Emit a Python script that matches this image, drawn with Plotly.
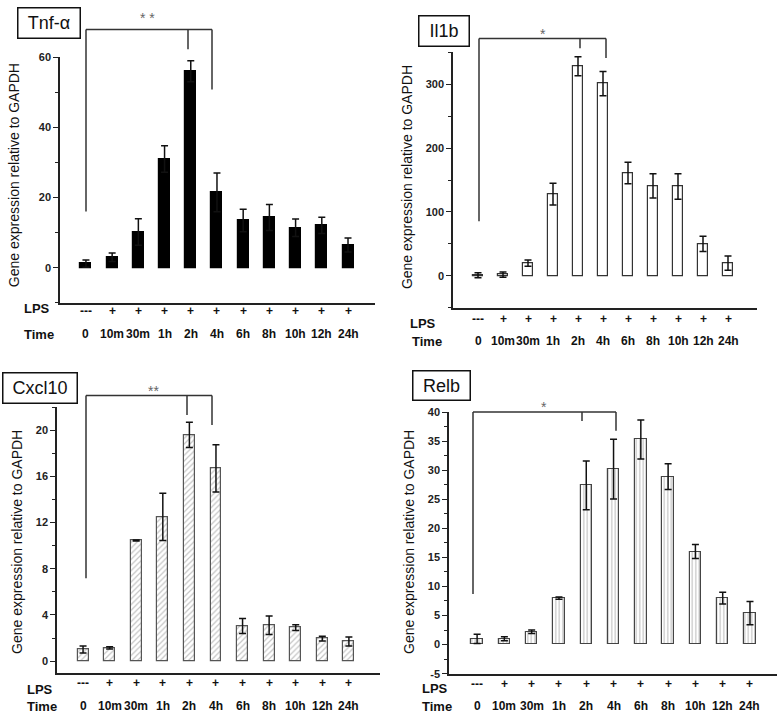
import plotly.graph_objects as go

W, H = 778, 718

# ---------------- data ----------------
times = ["0", "10m", "30m", "1h", "2h", "4h", "6h", "8h", "10h", "12h", "24h"]
lps = ["---", "+", "+", "+", "+", "+", "+", "+", "+", "+", "+"]

tnf = [1.2, 3.0, 10.2, 31.0, 56.0, 21.5, 13.5, 14.3, 11.4, 12.1, 6.5]
tnf_err = [1.0, 1.2, 3.8, 3.8, 3.0, 5.5, 3.2, 3.7, 2.5, 2.3, 2.0]

il1b = [1, 2, 20, 128, 328, 301, 161, 141, 140, 50, 20]
il1b_err = [4, 4, 5, 17, 15, 19, 17, 19, 20, 12, 11]

cxcl10 = [1.0, 1.15, 10.45, 12.5, 19.6, 16.7, 3.05, 3.1, 2.9, 1.95, 1.7]
cxcl10_err = [0.3, 0.1, 0.05, 2.05, 1.1, 2.05, 0.65, 0.8, 0.25, 0.2, 0.4]

relb = [1.0, 1.0, 2.2, 8.0, 27.4, 30.2, 35.3, 28.9, 16.0, 8.0, 5.4]
relb_err = [0.8, 0.35, 0.3, 0.2, 4.2, 5.15, 3.35, 2.2, 1.2, 1.0, 2.0]

tnf_ticks = [0, 20, 40, 60]
il1b_ticks = [0, 100, 200, 300]
cxcl10_ticks = [0, 4, 8, 12, 16, 20]
relb_ticks = [-5, 0, 5, 10, 15, 20, 25, 30, 35, 40]

genes = ["Tnf-α", "Il1b", "Cxcl10", "Relb"]
stars = ["* *", "*", "**", "*"]

FONT = "Liberation Sans, Arial, sans-serif"


def px_x(p):
    return p / W


def px_y(p):
    return 1 - p / H


# panel geometry (pixels)
panels = [
    dict(vals=tnf, err=tnf_err, xpx=(60, 375), ypx=(52, 302), xr=(-0.99, 11.03),
         yr=(-10, 60), tv=tnf_ticks, minor=10, bw=0.42,
         fill="black", line="black", pattern=None,
         box=(17, 2, 80, 33), gene_size=18,
         ytitle=(14, 172), lps_y=310, time_y=334, lps_hdr=(22, 308), time_hdr=(22, 334),
         br=dict(y=24, x0=86, x1=212, left=209, mid=(188, 44), right=(212, 85)), star=(147, 12)),
    dict(vals=il1b, err=il1b_err, xpx=(453, 757), ypx=(47, 307), xr=(-1.0, 11.16),
         yr=(-50, 350), tv=il1b_ticks, minor=50, bw=0.40,
         fill="white", line="#333", pattern=None,
         box=(419, 10, 470, 41), gene_size=18,
         ytitle=(407, 174), lps_y=318, time_y=341, lps_hdr=(408, 323), time_hdr=(410, 341),
         br=dict(y=33, x0=479, x1=606, left=219, mid=(580, 43), right=(606, 53)), star=(543, 28)),
    dict(vals=cxcl10, err=cxcl10_err, xpx=(57, 380), ypx=(408, 678), xr=(-0.98, 11.17),
         yr=(-1, 22), tv=cxcl10_ticks, minor=2, bw=0.41,
         fill="white", line="#555", pattern=dict(shape="/", fgcolor="#8a8a8a", bgcolor="white", size=4, solidity=0.3),
         box=(2, 373, 77, 404), gene_size=18,
         ytitle=(17, 545), lps_y=688, time_y=712, lps_hdr=(25, 695), time_hdr=(25, 712),
         br=dict(y=396, x0=86, x1=212, left=582, mid=(187, 416), right=(212, 426)), star=(153, 392)),
    dict(vals=relb, err=relb_err, xpx=(449, 777), ypx=(413, 679), xr=(-1.03, 10.99),
         yr=(-5, 40), tv=relb_ticks, minor=2.5, bw=0.42,
         fill="white", line="#444", pattern=dict(shape="|", fgcolor="#8a8a8a", bgcolor="white", size=3.5, solidity=0.35),
         box=(413, 371, 471, 401), gene_size=18,
         ytitle=(409, 545), lps_y=690, time_y=712, lps_hdr=(420, 694), time_hdr=(420, 712),
         br=dict(y=413, x0=473, x1=616, left=598, mid=(582, 422), right=(616, 432)), star=(544, 408)),
]

fig = go.Figure()
annotations = []
shapes = []


def ann(**kw):
    d = dict(showarrow=False, xanchor="center", yanchor="middle")
    d.update(kw)
    annotations.append(d)


for i, p in enumerate(panels):
    n = "" if i == 0 else str(i + 1)
    xa, ya = "x" + n, "y" + n
    marker = dict(color=p["fill"], line=dict(color=p["line"], width=1.2))
    if p["pattern"]:
        marker["pattern"] = p["pattern"]
    fig.add_trace(go.Bar(
        x=times, y=p["vals"], width=p["bw"], marker=marker,
        error_y=dict(type="data", array=p["err"], visible=True, color="#111",
                     thickness=1.5, width=3.5),
        xaxis=xa, yaxis=ya, showlegend=False, hoverinfo="skip",
    ))
    xdom = [px_x(p["xpx"][0]), px_x(p["xpx"][1])]
    ydom = [px_y(p["ypx"][1]), px_y(p["ypx"][0])]
    fig.layout["xaxis" + n] = dict(
        domain=xdom, anchor=ya, range=list(p["xr"]), type="category",
        showline=True, linecolor="#222", linewidth=1.5, ticks="",
        showticklabels=False, showgrid=False, zeroline=False, fixedrange=True,
    )
    fig.layout["yaxis" + n] = dict(
        domain=ydom, anchor=xa, range=list(p["yr"]), tickvals=p["tv"],
        ticktext=["<b>%s</b>" % v for v in p["tv"]],
        showline=True, linecolor="#222", linewidth=1.5,
        ticks="outside", ticklen=5, tickwidth=1.2, tickcolor="#222",
        minor=dict(dtick=p["minor"], ticks="outside", ticklen=3, tickwidth=1, tickcolor="#222"),
        tickfont=dict(family=FONT, size=11, color="#222"),
        showgrid=False, zeroline=False, fixedrange=True,
    )

    # LPS and Time rows
    for t, s in zip(times, lps):
        ann(x=t, y=px_y(p["lps_y"]), xref=xa, yref="paper", text="<b>%s</b>" % s,
            font=dict(family=FONT, size=12, color="#111"))
        ann(x=t, y=px_y(p["time_y"]), xref=xa, yref="paper", text="<b>%s</b>" % t,
            font=dict(family=FONT, size=12, color="#111"))
    ann(x=px_x(p["lps_hdr"][0]), y=px_y(p["lps_hdr"][1]), xref="paper", yref="paper",
        xanchor="left", text="<b>LPS</b>", font=dict(family=FONT, size=13, color="#111"))
    ann(x=px_x(p["time_hdr"][0]), y=px_y(p["time_hdr"][1]), xref="paper", yref="paper",
        xanchor="left", text="<b>Time</b>", font=dict(family=FONT, size=13, color="#111"))

    # y title
    ann(x=px_x(p["ytitle"][0]), y=px_y(p["ytitle"][1]), xref="paper", yref="paper",
        text="Gene expression relative to GAPDH", textangle=-90,
        font=dict(family=FONT, size=14, color="#111"))

    # gene box
    bx0, by0, bx1, by1 = p["box"]
    ann(x=px_x((bx0 + bx1) / 2), y=px_y((by0 + by1) / 2), xref="paper", yref="paper",
        text=genes[i], width=bx1 - bx0 - 2, height=by1 - by0 - 2,
        bordercolor="#111", borderwidth=1.5, borderpad=0, bgcolor="white",
        font=dict(family=FONT, size=p["gene_size"], color="#111"))

    # significance bracket
    b = p["br"]
    lc = dict(color="#333", width=1.5)
    shapes.append(dict(type="line", xref="paper", yref="paper",
                       x0=px_x(b["x0"]), x1=px_x(b["x1"]), y0=px_y(b["y"]), y1=px_y(b["y"]), line=lc))
    shapes.append(dict(type="line", xref="paper", yref="paper",
                       x0=px_x(b["x0"]), x1=px_x(b["x0"]), y0=px_y(b["y"]), y1=px_y(b["left"]), line=lc))
    shapes.append(dict(type="line", xref="paper", yref="paper",
                       x0=px_x(b["mid"][0]), x1=px_x(b["mid"][0]), y0=px_y(b["y"]), y1=px_y(b["mid"][1]), line=lc))
    shapes.append(dict(type="line", xref="paper", yref="paper",
                       x0=px_x(b["right"][0]), x1=px_x(b["right"][0]), y0=px_y(b["y"]), y1=px_y(b["right"][1]), line=lc))
    ann(x=px_x(p["star"][0]), y=px_y(p["star"][1]), xref="paper", yref="paper",
        text=stars[i], font=dict(family=FONT, size=14, color="#666"))

fig.update_layout(
    width=W, height=H, margin=dict(l=0, r=0, t=0, b=0),
    paper_bgcolor="white", plot_bgcolor="white",
    annotations=annotations, shapes=shapes, bargap=0,
)

fig.write_html("out.html", config=dict(displayModeBar=False),
               post_script="document.body.style.margin='0px';document.body.style.overflow='hidden';")
